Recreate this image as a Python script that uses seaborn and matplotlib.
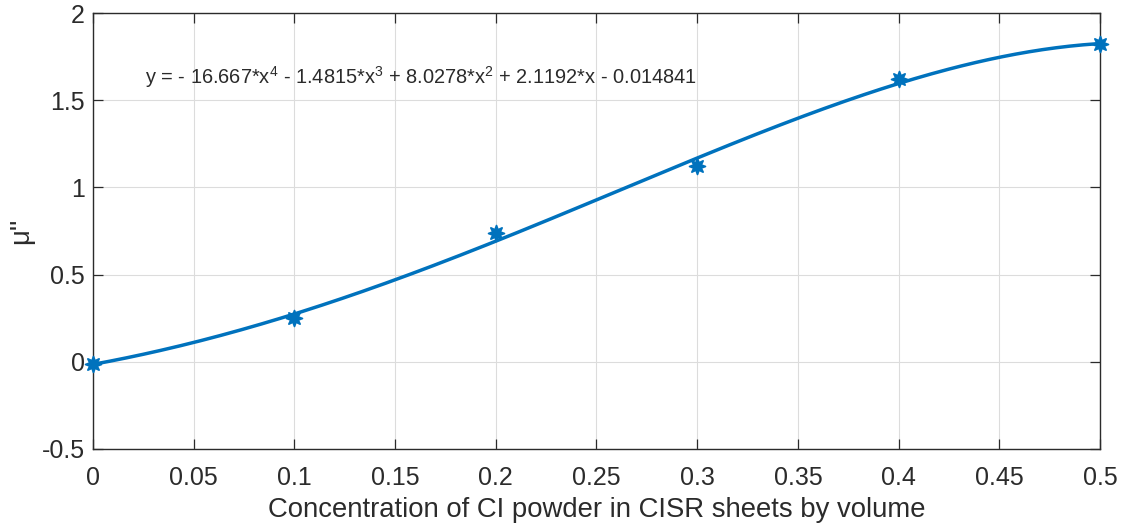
import numpy as np
import pandas as pd
import matplotlib
matplotlib.use("Agg")
import matplotlib.pyplot as plt
import seaborn as sns

# Measured values
concentration = [0.0, 0.1, 0.2, 0.3, 0.4, 0.5]
mu_imag = [-0.01, 0.25, 0.74, 1.12, 1.62, 1.82]

# Fourth-order polynomial fit coefficients (highest power first)
fit_coeffs = [-16.667, -1.4815, 8.0278, 2.1192, -0.014841]
fit_label = r"y = - 16.667*x$^4$ - 1.4815*x$^3$ + 8.0278*x$^2$ + 2.1192*x - 0.014841"

x_ticks = [0, 0.05, 0.1, 0.15, 0.2, 0.25, 0.3, 0.35, 0.4, 0.45, 0.5]
x_tick_labels = ["0", "0.05", "0.1", "0.15", "0.2", "0.25", "0.3", "0.35", "0.4", "0.45", "0.5"]
y_ticks = [-0.5, 0, 0.5, 1, 1.5, 2]
y_tick_labels = ["-0.5", "0", "0.5", "1", "1.5", "2"]

sns.set_theme(style="white")
plt.rcParams["font.family"] = ["Liberation Sans", "DejaVu Sans"]
plt.rcParams["mathtext.fontset"] = "custom"
plt.rcParams["mathtext.rm"] = "Liberation Sans"

blue = "#0072BD"
ink = "#2b2b2b"

fig = plt.figure(figsize=(11.31, 5.25), dpi=100)
ax = fig.add_axes([0.0822, 0.1448, 0.8904, 0.8304])

xs = np.linspace(0, 0.5, 300)
fit_df = pd.DataFrame({"x": xs, "y": np.polyval(fit_coeffs, xs)})
pts_df = pd.DataFrame({"x": concentration, "y": mu_imag})

sns.lineplot(data=fit_df, x="x", y="y", ax=ax, color=blue, linewidth=2.5, zorder=3)
sns.scatterplot(data=pts_df, x="x", y="y", ax=ax, color=blue, marker=(8, 1, 0),
                s=130, edgecolor=blue, linewidth=1.3, zorder=4, clip_on=False)

ax.set_xlim(0, 0.5)
ax.set_ylim(-0.5, 2)
ax.set_xticks(x_ticks)
ax.set_xticklabels(x_tick_labels)
ax.set_yticks(y_ticks)
ax.set_yticklabels(y_tick_labels)
ax.grid(True, color="#dcdcdc", linewidth=0.8)
ax.set_axisbelow(True)

for side in ["left", "right", "top", "bottom"]:
    ax.spines[side].set_visible(True)
    ax.spines[side].set_color(ink)
    ax.spines[side].set_linewidth(1.0)

ax.tick_params(axis="both", which="both", direction="in", length=7, width=0.9,
               color=ink, labelsize=18, labelcolor=ink,
               top=True, right=True, bottom=True, left=True)
ax.tick_params(axis="x", pad=12)
ax.tick_params(axis="y", pad=6)

ax.set_xlabel("Concentration of CI powder in CISR sheets by volume", fontsize=19.8,
              color=ink, labelpad=5)
ax.set_ylabel("μ''", fontsize=19.8, color=ink, labelpad=5)

ax.text(0.026, 1.635, fit_label, fontsize=14.4, color=ink, va="center", ha="left")

fig.savefig("out.png", dpi=100)
